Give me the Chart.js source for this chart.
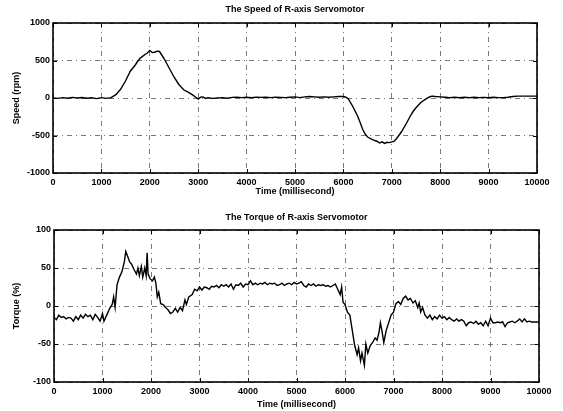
<!DOCTYPE html>
<html><head><meta charset="utf-8">
<script src="https://cdn.jsdelivr.net/npm/chart.js@4/dist/chart.umd.min.js"></script>
<style>
html,body{margin:0;padding:0;background:#fff;}
#wrap{position:relative;width:563px;height:411px;overflow:hidden;}
canvas{position:absolute;left:0;}
</style></head><body>
<div id="wrap">
<canvas id="c1" width="563" height="200" style="top:0;width:563px;height:200px"></canvas>
<canvas id="c2" width="563" height="211" style="top:200px;width:563px;height:211px"></canvas>
</div>
<script>
// ---- data ----
const timeTicks = [0,1000,2000,3000,4000,5000,6000,7000,8000,9000,10000];
const speedTicks = [-1000,-500,0,500,1000];
const torqueTicks = [-100,-50,0,50,100];

const speedTimeMs = [
 0,100,200,300,400,500,600,700,800,900,
 1000,1100,1200,1300,1400,1500,1600,1700,1750,1800,
 1850,1900,1950,2000,2050,2100,2150,2200,2250,2300,
 2400,2500,2600,2700,2800,2900,2950,3000,3050,3100,
 3150,3200,3300,3400,3500,3600,3700,3800,3900,4000,
 4100,4200,4300,4400,4500,4600,4700,4800,4900,5000,
 5100,5200,5300,5400,5500,5600,5700,5800,5900,6000,
 6050,6100,6200,6300,6400,6450,6500,6600,6700,6750,
 6800,6850,6900,6950,7000,7050,7100,7200,7300,7400,
 7450,7500,7600,7700,7750,7800,7850,7900,8000,8100,
 8200,8300,8400,8500,8600,8700,8800,8900,9000,9100,
 9200,9300,9400,9500,9600,9700,9800,9900,10000];
const speedRpm = [
 0,-5,5,-3,8,0,6,-4,3,-8,
 5,-5,5,45,120,230,360,440,490,530,
 555,580,600,635,605,610,625,620,570,520,
 400,280,180,110,75,35,10,-15,10,15,
 -5,5,-5,0,5,-3,8,10,5,10,
 5,12,8,10,5,12,8,5,10,15,
 5,15,20,15,10,15,10,15,20,20,
 10,-10,-120,-250,-420,-480,-520,-555,-580,-600,
 -585,-605,-590,-595,-585,-575,-540,-450,-340,-220,
 -170,-130,-60,-15,5,20,25,20,15,10,
 5,10,5,10,5,10,5,8,5,10,
 5,5,10,20,25,25,25,25,25];

const torqueTimeMs = [
 0,50,100,150,200,250,300,350,400,450,
 500,550,600,650,700,750,800,850,900,950,
 1000,1030,1100,1150,1200,1230,1260,1300,1350,1400,
 1450,1480,1520,1560,1600,1650,1700,1730,1760,1800,
 1830,1870,1900,1920,1940,1980,2030,2070,2100,2130,
 2160,2200,2250,2300,2350,2400,2450,2500,2550,2600,
 2650,2700,2730,2780,2850,2900,2950,3000,3050,3100,
 3150,3200,3250,3300,3350,3400,3450,3500,3550,3600,
 3650,3700,3750,3800,3850,3900,3950,4000,4050,4100,
 4150,4200,4250,4300,4350,4400,4450,4500,4550,4600,
 4650,4700,4750,4800,4850,4900,4950,5000,5050,5100,
 5150,5200,5250,5300,5350,5400,5450,5500,5550,5600,
 5650,5700,5750,5800,5850,5900,5930,5960,6000,6050,
 6100,6150,6200,6250,6280,6320,6350,6400,6430,6470,
 6520,6570,6620,6660,6700,6730,6760,6800,6850,6900,
 6950,7000,7050,7100,7150,7200,7250,7300,7350,7400,
 7450,7500,7530,7560,7600,7650,7700,7750,7800,7850,
 7900,7950,8000,8050,8100,8150,8200,8250,8300,8350,
 8400,8450,8500,8550,8600,8650,8700,8750,8800,8850,
 8900,8950,9000,9050,9100,9150,9200,9250,9300,9350,
 9400,9450,9500,9550,9600,9650,9700,9750,9800,9850,
 9900,9950,10000];
const torquePct = [
 -15,-18,-12,-15,-14,-17,-15,-16,-20,-14,
 -18,-12,-16,-11,-14,-12,-18,-11,-15,-20,
 -10,-20,-10,-3,2,12,-2,28,38,45,
 58,72,65,58,55,48,42,50,40,52,
 38,50,40,70,42,36,33,38,30,12,
 18,3,2,-2,-5,-10,-8,-3,-8,-2,
 -6,8,2,12,15,22,20,25,21,25,
 24,22,26,25,27,24,28,26,28,25,
 29,22,28,27,30,25,29,28,33,28,
 30,28,30,29,31,28,30,29,30,27,
 28,30,27,29,30,28,31,29,30,32,
 27,25,29,27,29,26,28,27,28,26,
 27,25,27,29,22,15,25,5,2,-8,
 -12,-32,-52,-64,-55,-72,-62,-78,-50,-62,
 -52,-48,-42,-45,-35,-22,-32,-48,-32,-22,
 -12,-8,3,6,2,10,13,8,10,4,
 7,-2,4,-8,-2,-12,-16,-12,-18,-14,
 -17,-12,-16,-14,-18,-15,-18,-20,-17,-20,
 -18,-20,-26,-22,-21,-23,-20,-24,-22,-26,
 -20,-26,-16,-22,-22,-21,-22,-21,-27,-22,
 -21,-20,-22,-20,-17,-21,-17,-21,-20,-21,
 -21,-21,-21];

// ---- drawing ----
const FONT = 'Liberation Sans, Arial, Helvetica, sans-serif';

const framePlugin = {
  id: 'matlabFrame',
  afterDatasetsDraw(chart) {
    const {ctx, chartArea: a, scales} = chart;
    ctx.save();
    ctx.strokeStyle = '#000';
    ctx.lineWidth = 1;
    ctx.beginPath();
    scales.x.ticks.forEach(t => {
      const px = Math.round(scales.x.getPixelForValue(t.value)) + 0.5;
      ctx.moveTo(px, a.bottom); ctx.lineTo(px, a.bottom - 4);
      ctx.moveTo(px, a.top); ctx.lineTo(px, a.top + 4);
    });
    scales.y.ticks.forEach(t => {
      const py = Math.round(scales.y.getPixelForValue(t.value)) + 0.5;
      ctx.moveTo(a.left, py); ctx.lineTo(a.left + 4, py);
      ctx.moveTo(a.right, py); ctx.lineTo(a.right - 4, py);
    });
    ctx.stroke();
    ctx.lineWidth = 1.6;
    ctx.strokeRect(a.left, a.top, a.right - a.left, a.bottom - a.top);
    ctx.restore();
  }
};

function makeChart(id, opts) {
  const points = opts.times.map((t, i) => ({x: t, y: opts.values[i]}));
  return new Chart(document.getElementById(id), {
    type: 'line',
    data: {datasets: [{
      data: points,
      borderColor: '#000',
      borderWidth: 1.4,
      pointRadius: 0,
      tension: 0,
      fill: false
    }]},
    options: {
      responsive: false,
      animation: false,
      devicePixelRatio: 1,
      layout: {padding: {left: 0, right: opts.padRight, top: 0, bottom: 0}},
      plugins: {
        legend: {display: false},
        tooltip: {enabled: false},
        title: {
          display: true,
          fullSize: false,
          text: opts.title,
          color: '#000',
          font: {family: FONT, size: 9, weight: 'bold'},
          padding: opts.titlePad
        }
      },
      scales: {
        x: {
          type: 'linear',
          min: 0, max: 10000,
          afterBuildTicks: s => { s.ticks = timeTicks.map(v => ({value: v})); },
          afterFit: s => { s.height = opts.xHeight; },
          grid: {color: '#555', lineWidth: 0.8, drawTicks: false},
          border: {display: false, dash: [5, 4, 1, 4]},
          ticks: {
            color: '#000', padding: 4, maxRotation: 0, autoSkip: false,
            font: {family: FONT, size: 9, weight: 'bold'},
            callback: v => String(v)
          },
          title: {
            display: true, text: 'Time (millisecond)', color: '#000',
            font: {family: FONT, size: 9, weight: 'bold'},
            padding: {top: 0, bottom: opts.xTitlePad}
          }
        },
        y: {
          type: 'linear',
          min: opts.yTicks[0], max: opts.yTicks[opts.yTicks.length - 1],
          afterBuildTicks: s => { s.ticks = opts.yTicks.map(v => ({value: v})); },
          afterFit: s => { s.width = opts.yWidth; },
          grid: {color: '#555', lineWidth: 0.8, drawTicks: false},
          border: {display: false, dash: [5, 4, 1, 4]},
          ticks: {
            color: '#000', padding: 3,
            font: {family: FONT, size: 9, weight: 'bold'},
            callback: v => String(v)
          },
          title: {
            display: true, text: opts.yTitle, color: '#000',
            font: {family: FONT, size: 9, weight: 'bold'},
            padding: {top: 11, bottom: 0}
          }
        }
      }
    },
    plugins: [framePlugin]
  });
}

makeChart('c1', {
  times: speedTimeMs, values: speedRpm, yTicks: speedTicks,
  title: 'The Speed of R-axis Servomotor', yTitle: 'Speed (rpm)',
  padRight: 26, titlePad: {top: 4, bottom: 8.2}, xHeight: 27, xTitlePad: 3, yWidth: 53
});
makeChart('c2', {
  times: torqueTimeMs, values: torquePct, yTicks: torqueTicks,
  title: 'The Torque of R-axis Servomotor', yTitle: 'Torque (%)',
  padRight: 24, titlePad: {top: 12, bottom: 7.2}, xHeight: 29, xTitlePad: 1.5, yWidth: 54
});
</script>
</body></html>
